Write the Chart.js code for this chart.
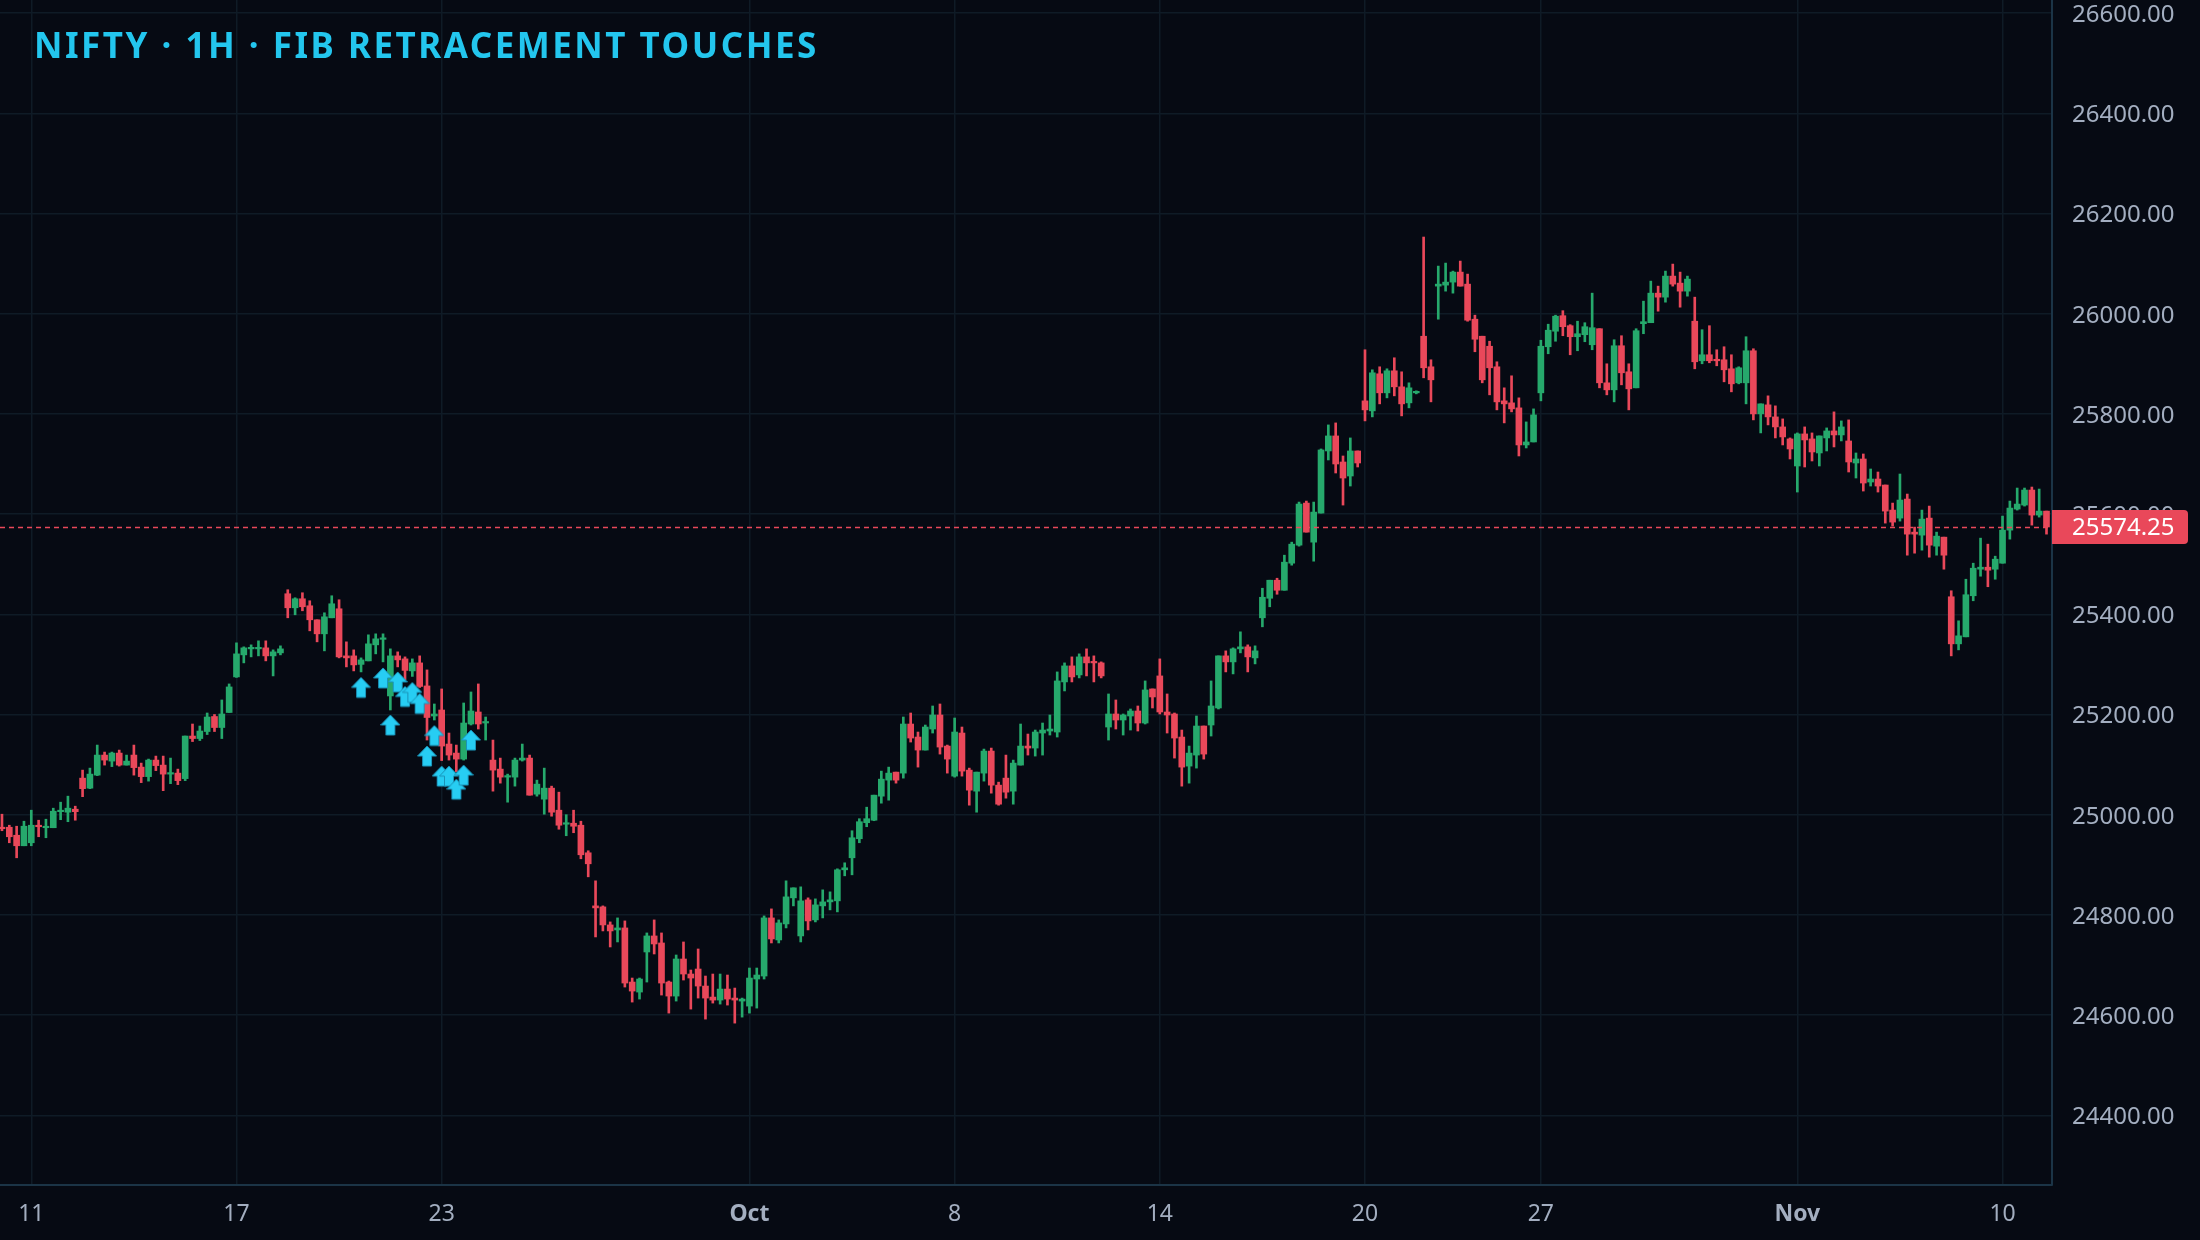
<!DOCTYPE html>
<html><head><meta charset="utf-8">
<script src="https://cdn.jsdelivr.net/npm/chart.js@4.4.1/dist/chart.umd.min.js"></script>
<style>
html,body{margin:0;padding:0;background:#060a13;}
#wrap{position:relative;width:2200px;height:1240px;background:#060a13;}
#title{position:absolute;left:34px;top:27px;font-family:'Noto Sans',sans-serif;font-weight:700;font-size:35px;line-height:35px;letter-spacing:2.5px;color:#23c6ee;white-space:nowrap;}
canvas{display:block;}
</style></head><body>
<div id="wrap"><canvas id="c" width="2200" height="1240"></canvas><div id="title">NIFTY · 1H · FIB RETRACEMENT TOUCHES</div></div>
<script>
// ---- data (hourly candles, index 0 = first visible bar) ----
const opens = [
24975,24975,24959,24938,24944,24979,24974,24974,25006,25005,
25011,25073,25053,25079,25119,25107,25123,25099,25119,25095,
25076,25109,25099,25081,25083,25072,25157,25152,25166,25196,
25174,25204,25275,25319,25331,25331,25333,25317,25323,25441,
25413,25431,25417,25389,25361,25393,25411,25317,25317,25300,
25307,25339,25350,25237,25317,25311,25287,25303,25257,25197,
25209,25141,25123,25111,25181,25205,25183,25109,25091,25075,
25075,25109,25113,25041,25031,25053,25009,24981,24983,24979,
24924,24818,24816,24780,24770,24774,24666,24646,24726,24758,
24744,24666,24638,24712,24682,24692,24658,24636,24630,24652,
24634,24628,24618,24672,24678,24794,24750,24782,24834,24758,
24830,24790,24818,24826,24828,24890,24914,24952,24984,24989,
25037,25069,25085,25083,25181,25155,25129,25171,25199,25137,
25077,25163,25089,25047,25083,25127,25059,25073,25047,25099,
25137,25133,25163,25167,25165,25265,25297,25279,25315,25305,
25303,25175,25201,25189,25197,25207,25183,25251,25277,25205,
25201,25155,25097,25119,25177,25179,25213,25317,25305,25331,
25335,25313,25393,25432,25468,25448,25502,25538,25622,25544,
25602,25726,25756,25704,25676,25726,25826,25806,25880,25842,
25886,25854,25822,25842,25955,25894,26055,26057,26063,26083,
26059,25989,25955,25935,25894,25826,25822,25812,25738,25744,
25842,25934,25965,25996,25976,25954,25958,25938,25970,25862,
25848,25936,25884,25852,25980,25982,26041,26033,26075,26061,
26045,25985,25906,25918,25908,25908,25890,25862,25862,25926,
25800,25818,25794,25774,25750,25696,25760,25750,25722,25752,
25766,25758,25746,25702,25710,25664,25670,25658,25608,25592,
25630,25564,25558,25592,25536,25554,25435,25341,25355,25437,
25490,25494,25490,25502,25568,25610,25618,25648,25598,25606];
const highs = [
25001,24979,24977,24987,25009,24989,24991,25013,25025,25037,
25017,25089,25093,25139,25125,25125,25129,25119,25139,25103,
25111,25117,25117,25113,25091,25157,25181,25177,25203,25200,
25229,25261,25343,25335,25339,25347,25347,25329,25337,25449,
25433,25443,25427,25389,25403,25437,25429,25345,25329,25313,
25359,25361,25361,25331,25325,25315,25311,25317,25289,25221,
25251,25163,25139,25223,25245,25261,25195,25149,25113,25081,
25113,25141,25119,25069,25093,25057,25045,25000,25009,24987,
24928,24868,24818,24786,24794,24788,24674,24674,24764,24790,
24764,24668,24720,24746,24690,24732,24678,24682,24682,24680,
24654,24634,24694,24694,24798,24812,24790,24868,24854,24856,
24834,24832,24850,24846,24892,24904,24968,24992,25015,25039,
25087,25095,25085,25195,25203,25165,25179,25217,25221,25139,
25193,25175,25093,25085,25131,25133,25065,25119,25109,25181,
25161,25169,25183,25199,25285,25303,25315,25321,25331,25317,
25305,25241,25229,25201,25211,25217,25267,25251,25311,25241,
25203,25169,25137,25197,25177,25267,25317,25327,25333,25365,
25339,25337,25452,25468,25472,25518,25544,25624,25626,25624,
25730,25778,25782,25716,25752,25726,25928,25888,25894,25890,
25912,25884,25862,25846,26153,25908,26095,26101,26085,26105,
26079,25997,25955,25945,25904,25852,25876,25832,25784,25810,
25947,25979,25997,26006,25978,25985,25982,26041,25970,25900,
25948,25956,25900,25970,26025,26065,26055,26085,26099,26083,
26075,26033,25968,25976,25928,25934,25918,25894,25954,25930,
25820,25836,25816,25790,25752,25762,25774,25762,25756,25772,
25804,25786,25788,25722,25720,25690,25684,25658,25622,25680,
25640,25574,25608,25616,25564,25554,25447,25387,25470,25502,
25552,25540,25516,25596,25626,25652,25652,25654,25650,25606];
const lows = [
24968,24944,24914,24938,24938,24956,24954,24974,24990,24986,
24989,25036,25052,25078,25099,25096,25097,25099,25079,25064,
25067,25088,25048,25062,25060,25068,25146,25148,25160,25166,
25152,25204,25274,25303,25315,25317,25307,25277,25319,25393,
25399,25407,25367,25345,25327,25393,25313,25295,25287,25285,
25307,25321,25305,25209,25295,25269,25276,25254,25149,25189,
25108,25109,25086,25109,25179,25171,25149,25047,25063,25025,
25057,25107,25039,25037,25001,24997,24971,24958,24964,24912,
24876,24756,24768,24736,24746,24656,24626,24632,24666,24722,
24640,24604,24628,24670,24612,24634,24592,24624,24622,24620,
24584,24596,24604,24614,24672,24744,24744,24774,24818,24746,
24770,24786,24794,24810,24806,24878,24880,24944,24976,24988,
25023,25029,25063,25073,25145,25095,25129,25163,25121,25083,
25075,25077,25019,25005,25067,25043,25019,25033,25021,25099,
25119,25117,25119,25159,25155,25247,25265,25273,25277,25265,
25273,25149,25171,25159,25169,25167,25181,25213,25201,25163,
25113,25057,25063,25093,25111,25157,25211,25285,25281,25323,
25285,25301,25375,25415,25440,25448,25498,25536,25564,25506,
25602,25708,25682,25618,25656,25694,25786,25794,25820,25832,
25836,25796,25812,25840,25872,25824,25989,26045,26041,26055,
25985,25924,25862,25838,25808,25782,25804,25716,25732,25744,
25826,25920,25945,25956,25918,25926,25944,25928,25852,25838,
25824,25858,25808,25852,25960,25982,26005,26023,26055,26013,
26035,25890,25900,25902,25896,25864,25844,25860,25820,25788,
25762,25778,25752,25738,25710,25644,25694,25706,25696,25726,
25734,25746,25684,25672,25646,25656,25644,25582,25576,25586,
25518,25522,25528,25514,25518,25490,25317,25329,25355,25427,
25476,25455,25470,25502,25550,25608,25616,25578,25594,25560];
const closes = [
24972,24956,24938,24977,24979,24976,24975,25007,25009,25013,
25006,25052,25081,25119,25109,25123,25099,25107,25094,25076,
25109,25098,25081,25083,25068,25157,25152,25167,25195,25174,
25201,25255,25321,25333,25333,25333,25317,25325,25331,25413,
25431,25415,25389,25361,25395,25421,25315,25313,25299,25309,
25341,25351,25352,25317,25309,25288,25303,25256,25194,25201,
25137,25119,25111,25183,25207,25181,25185,25089,25075,25078,
25109,25113,25039,25061,25053,25005,24979,24983,24977,24920,
24902,24814,24780,24768,24774,24664,24648,24672,24758,24742,
24664,24638,24712,24682,24674,24658,24634,24630,24652,24632,
24630,24632,24674,24680,24794,24752,24784,24836,24854,24828,
24788,24820,24826,24830,24890,24894,24954,24986,24992,25039,
25071,25083,25069,25181,25153,25129,25175,25199,25135,25111,
25165,25087,25049,25085,25127,25059,25021,25045,25103,25137,
25133,25165,25169,25171,25267,25297,25275,25315,25303,25303,
25277,25201,25189,25199,25207,25183,25249,25235,25205,25199,
25153,25095,25123,25177,25121,25217,25317,25305,25331,25335,
25315,25327,25434,25468,25448,25504,25540,25620,25564,25604,
25728,25756,25700,25672,25726,25702,25808,25882,25842,25886,
25854,25820,25852,25844,25892,25868,26059,26063,26083,26055,
25987,25949,25868,25892,25824,25820,25810,25738,25744,25798,
25935,25967,25995,25974,25954,25960,25974,25972,25862,25848,
25936,25882,25850,25966,25984,26041,26033,26075,26059,26045,
26069,25904,25918,25906,25906,25888,25860,25892,25926,25800,
25820,25794,25774,25754,25730,25760,25748,25724,25756,25766,
25758,25774,25704,25710,25662,25670,25656,25606,25584,25628,
25560,25560,25590,25538,25556,25518,25341,25357,25439,25492,
25494,25488,25510,25568,25612,25620,25648,25598,25606,25574.25];

// x-axis day ticks (bar index of each labelled session's first bar)
const dayTickIdx    = [4, 32, 60, 102, 130, 158, 186, 210, 245, 273];
const dayTickLabels = ['11','17','23','Oct','8','14','20','27','Nov','10'];
const monthLabels   = ['Oct','Nov'];
// y-axis price ticks
const priceTicks = [24400,24600,24800,25000,25200,25400,25600,25800,26000,26200,26400,26600];
// fib retracement touch markers (bar index, price at arrow tip)
const fibTouchIdx   = [49, 52, 53, 54, 55, 56, 57, 58, 59, 60, 61, 62, 63, 64];
const fibTouchPrice = [25274,25293,25199,25285,25256,25264,25242,25137,25178,25097,25097,25071,25099,25169];

// ---- styling ----
const GREEN = '#26a96c', RED = '#e9485a', CYAN = '#27cdf3';
const GRID = '#0f1b26', AXIS = '#1b3446', TXT = '#a3aec0';
const FONT = "'Noto Sans', sans-serif";

const idx = closes.map((_, i) => i);
const colors = idx.map(i => closes[i] >= opens[i] ? GREEN : RED);

// arrow marker (tip sits at the canvas centre)
const arrow = document.createElement('canvas');
arrow.width = 20; arrow.height = 44;
(function(){
  const a = arrow.getContext('2d');
  a.fillStyle = CYAN; a.strokeStyle = '#1a93b8'; a.lineWidth = 1;
  a.beginPath();
  a.moveTo(10, 22); a.lineTo(19.5, 32); a.lineTo(14.5, 32); a.lineTo(14.5, 42);
  a.lineTo(5.5, 42); a.lineTo(5.5, 32); a.lineTo(0.5, 32); a.closePath();
  a.fill(); a.stroke();
})();

const noPad = s => { s.paddingTop = 0; s.paddingBottom = 0; s.paddingLeft = 0; s.paddingRight = 0; };

const lastPricePlugin = {
  id: 'lastPrice',
  afterDatasetsDraw(chart) {
    const {ctx, chartArea, scales} = chart;
    const py = Math.round(scales.y.getPixelForValue(closes[closes.length - 1])) + 0.5;
    ctx.save();
    ctx.strokeStyle = RED; ctx.lineWidth = 1.5; ctx.setLineDash([5, 4]);
    ctx.beginPath(); ctx.moveTo(chartArea.left, py); ctx.lineTo(chartArea.right, py); ctx.stroke();
    ctx.restore();
  },
  afterDraw(chart) {
    const {ctx, chartArea, scales} = chart;
    const last = closes[closes.length - 1];
    const py = scales.y.getPixelForValue(last);
    ctx.save();
    ctx.fillStyle = RED;
    ctx.beginPath();
    ctx.roundRect(chartArea.right, py - 17, 136, 34, [0, 4, 4, 0]);
    ctx.fill();
    ctx.fillStyle = '#ffffff';
    ctx.font = "24px " + FONT;
    ctx.textBaseline = 'middle'; ctx.textAlign = 'left';
    ctx.fillText(last.toFixed(2), chartArea.right + 20, py + 1);
    ctx.restore();
  }
};

new Chart(document.getElementById('c'), {
  type: 'bar',
  data: {
    datasets: [
      { type: 'scatter', data: fibTouchIdx.map((x, k) => ({x, y: fibTouchPrice[k]})),
        pointStyle: arrow, pointRadius: 10, order: 0 },
      { data: idx.map(i => ({x: i, y: [opens[i], closes[i]]})), backgroundColor: colors,
        barThickness: 6, grouped: false, minBarLength: 1.5, borderWidth: 0, order: 1 },
      { data: idx.map(i => ({x: i, y: [lows[i], highs[i]]})), backgroundColor: colors,
        barThickness: 2, grouped: false, borderWidth: 0, order: 2 }
    ]
  },
  options: {
    responsive: false, animation: false, devicePixelRatio: 1, events: [],
    layout: { padding: 0, autoPadding: false },
    plugins: { legend: { display: false }, tooltip: { enabled: false }, title: { display: false } },
    scales: {
      x: {
        type: 'linear', min: -0.27, max: 279.75, offset: false,
        grid: { offset: false, color: GRID, lineWidth: 1.5, drawTicks: false },
        border: { color: AXIS, width: 2 },
        afterBuildTicks: s => { s.ticks = dayTickIdx.map(v => ({value: v})); },
        afterFit: s => { s.height = 55; noPad(s); },
        ticks: {
          autoSkip: false, maxRotation: 0, padding: 16, color: TXT,
          font: c => {
            const lab = c.tick ? dayTickLabels[dayTickIdx.indexOf(c.tick.value)] : '';
            return { family: FONT, size: 23, weight: monthLabels.includes(lab) ? 'bold' : 'normal' };
          },
          callback: v => dayTickLabels[dayTickIdx.indexOf(v)]
        }
      },
      y: {
        position: 'right', min: 24260.9, max: 26626.1,
        grid: { color: GRID, lineWidth: 1.5, drawTicks: false },
        border: { color: AXIS, width: 2 },
        afterBuildTicks: s => { s.ticks = priceTicks.map(v => ({value: v})); },
        afterFit: s => { s.width = 148; noPad(s); },
        ticks: { padding: 20, labelOffset: 2, color: TXT, font: { family: FONT, size: 24 },
          callback: v => Number(v).toFixed(2) }
      }
    }
  },
  plugins: [lastPricePlugin]
});
</script>
</body></html>
